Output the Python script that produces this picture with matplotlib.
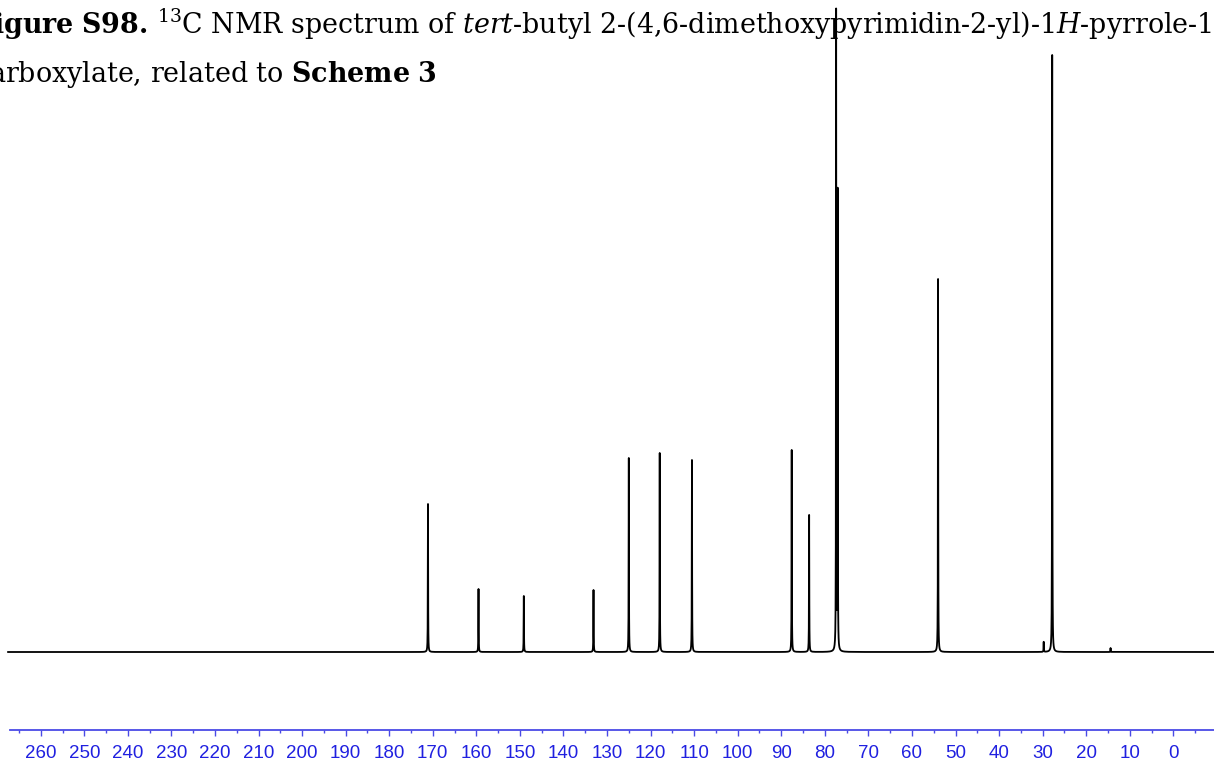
import numpy as np
import matplotlib.pyplot as plt
from matplotlib.ticker import MultipleLocator

# 13C peak list (ppm) and intensities (arbitrary units)
shifts = [171.1, 159.5, 149.1, 133.1, 125.0, 117.9, 110.5,
          87.6, 83.6, 77.40, 77.05, 54.0, 29.75, 27.8, 14.4]
heights = [148, 63, 56, 62, 194, 199, 192,
           202, 137, 639, 458, 373, 10, 597, 4]

ppm_start, ppm_end = 267.5, -9.3
tick_major = 10
tick_minor = 5

title_line1 = (r"$\mathbf{Figure\ S98.}\,^{13}$C NMR spectrum of "
               r"$\mathit{tert}$-butyl 2-(4,6-dimethoxypyrimidin-2-yl)-1$\mathit{H}$-pyrrole-1-")
title_line2 = r"carboxylate, related to $\mathbf{Scheme\ 3}$"

serif = 'DejaVu Serif'
plt.rcParams['font.family'] = 'Liberation Sans'
plt.rcParams['mathtext.fontset'] = 'custom'
plt.rcParams['mathtext.rm'] = serif
plt.rcParams['mathtext.it'] = serif + ':italic'
plt.rcParams['mathtext.bf'] = serif + ':bold'

W, H = 1214, 761
fig = plt.figure(figsize=(W / 100, H / 100), dpi=100)

# spectrum: sum of narrow Lorentzian lines
x = np.union1d(np.arange(ppm_end, ppm_start, 0.004), shifts)
y = np.zeros_like(x)
hw = 0.035
for c, h in zip(shifts, heights):
    y += h * hw**2 / ((x - c)**2 + hw**2)

xlim = (1173.3 / 4.356, (1173.3 - W) / 4.356)
ax = fig.add_axes([0, 0, 1, 1])
ax.plot(x, y, color='black', lw=1.3)
ax.set_xlim(*xlim)
ax.set_ylim(-(H - 652), 652)
ax.axis('off')

# ppm scale
axis_blue = '#4a4ae6'
label_blue = '#2020e0'
sc = fig.add_axes([0, (H - 730) / H, 1, 0.0001])
sc.set_xlim(*xlim)
sc.set_yticks([])
for s in ['top', 'left', 'right']:
    sc.spines[s].set_visible(False)
sc.spines['bottom'].set_color(axis_blue)
sc.spines['bottom'].set_linewidth(1.3)
sc.spines['bottom'].set_bounds((1173.3 - 10) / 4.356, xlim[1])
sc.patch.set_alpha(0)
sc.xaxis.set_major_locator(MultipleLocator(tick_major))
sc.xaxis.set_minor_locator(MultipleLocator(tick_minor))
sc.tick_params(axis='x', which='major', direction='out', length=4.5, width=1.0,
               color=axis_blue, labelcolor=label_blue, labelsize=13.5, pad=6)
sc.tick_params(axis='x', which='minor', direction='out', length=2.5, width=1.0,
               color=axis_blue)

# caption
fig.text(-26 / W, 1 - 34 / H, title_line1, fontsize=19.4, family=serif,
         ha='left', va='baseline')
fig.text(-26 / W, 1 - 82 / H, title_line2, fontsize=19.4, family=serif,
         ha='left', va='baseline')

fig.savefig('out.png', dpi=100)
